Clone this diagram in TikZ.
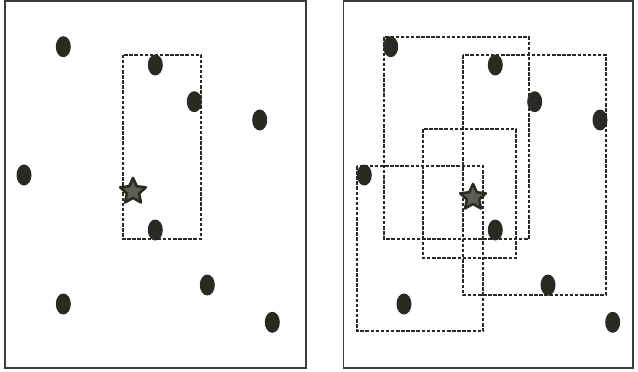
\documentclass[tikz,border=0pt]{standalone}
\usepackage{tikz}
\usetikzlibrary{shapes.geometric}
\definecolor{dotc}{HTML}{2A2A22}
\definecolor{framec}{HTML}{3A3D33}
\definecolor{starc}{HTML}{5E5E55}

\begin{document}
\begin{tikzpicture}[x=1pt,y=-1pt,
  pt/.style={ellipse,fill=dotc,draw=none,minimum width=15pt,minimum height=21pt,inner sep=0pt},
  qry/.style={star,star points=5,star point ratio=2.1,minimum size=27pt,inner sep=0pt,
              fill=starc,draw=dotc,line width=2.6pt,line join=round},
  panel/.style={draw=framec,line width=1.3pt},
  win/.style={draw=dotc,line width=1.9pt,dash pattern=on 3.5pt off 1.6pt}
]
\useasboundingbox (0,0) rectangle (638,372);

% Left panel
\draw[panel] (5,1) rectangle (306,368);
\draw[win] (122.7,54.7) rectangle (201,239);

\node[pt] (a1) at (63.3,46.7) {};
\node[pt] (a2) at (155.3,65) {};
\node[pt] (a3) at (194.3,101.7) {};
\node[pt] (a4) at (259.7,120) {};
\node[pt] (a5) at (24,175) {};
\node[pt] (a6) at (155.3,230) {};
\node[pt] (a7) at (207.3,285) {};
\node[pt] (a8) at (63.3,304) {};
\node[pt] (a9) at (272.3,322.3) {};
\node[qry] (qa) at (133,191.5) {};

% Right panel
\draw[panel] (343.5,1) rectangle (633,368);
\draw[win] (384,37.3) rectangle (529,239);
\draw[win] (462.7,55) rectangle (606,294.7);
\draw[win] (422.7,129.3) rectangle (516,257.7);
\draw[win] (357.3,166) rectangle (483,331.3);

\node[pt] (b1) at (390.7,46.7) {};
\node[pt] (b2) at (495.3,65) {};
\node[pt] (b3) at (534.7,101.7) {};
\node[pt] (b4) at (600,120) {};
\node[pt] (b5) at (364.3,175) {};
\node[pt] (b6) at (495.3,230) {};
\node[pt] (b7) at (548,285) {};
\node[pt] (b8) at (404,304) {};
\node[pt] (b9) at (612.7,322.3) {};
\node[qry] (qb) at (473,197.5) {};

\end{tikzpicture}
\end{document}
